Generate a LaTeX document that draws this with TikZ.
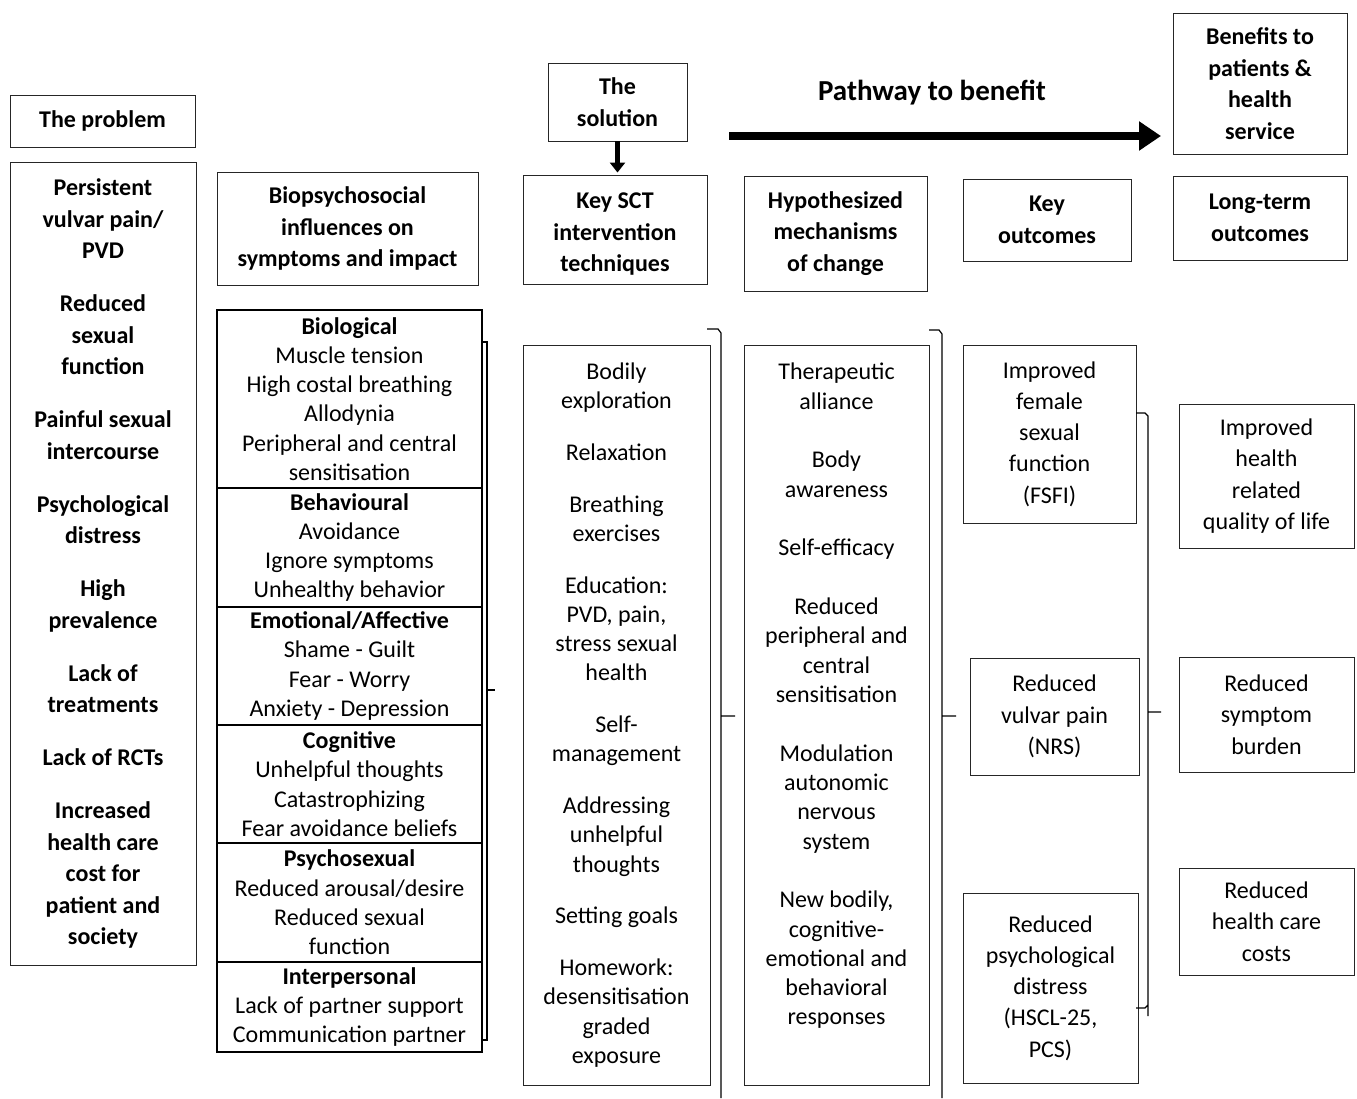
\documentclass[tikz,border=0pt]{standalone}
\usepackage{fontspec}
\setmainfont{Carlito}
\usepackage{tikz}
\usetikzlibrary{arrows.meta}
\tikzset{
	box/.style={draw=black!85,line width=0.9pt,align=center,inner sep=0pt,font=\fontsize{24}{29.3}\selectfont},
	boxb/.style={box,font=\bfseries\fontsize{24}{31.5}\selectfont},
	boxw/.style={box,font=\fontsize{24}{31.3}\selectfont},
	sect/.style={box,draw=black,line width=1.8pt,minimum width=265pt},
	brace/.style={draw=black,line width=1.2pt},
}
\begin{document}
\begin{tikzpicture}[x=1pt,y=-1pt]

		\useasboundingbox (0,0) rectangle (1357,1098);

		\node[boxb,minimum width=185pt,minimum height=52pt] (problem) at (102.5,121) {The problem};
		\node[boxb,minimum width=186pt,minimum height=803pt] (issues) at (103,563.5) {Persistent\\vulvar pain/\\PVD\\[21.5pt]Reduced\\sexual\\function\\[21.5pt]Painful sexual\\intercourse\\[21.5pt]Psychological\\distress\\[21.5pt]High\\prevalence\\[21.5pt]Lack of\\treatments\\[21.5pt]Lack of RCTs\\[21.5pt]Increased\\health care\\cost for\\patient and\\society};

		\node[boxb,minimum width=261pt,minimum height=113pt] (influences) at (347.5,228.5) {Biopsychosocial\\influences on\\symptoms and impact};
		\node[sect,minimum height=178pt] (bio) at (349.5,399) {\textbf{Biological}\\Muscle tension\\High costal breathing\\Allodynia\\Peripheral and central\\sensitisation};
		\node[sect,minimum height=119pt] (beh) at (349.5,547.5) {\textbf{Behavioural}\\Avoidance\\Ignore symptoms\\Unhealthy behavior};
		\node[sect,minimum height=118pt] (emo) at (349.5,666) {\textbf{Emotional/Affective}\\Shame - Guilt\\Fear - Worry\\Anxiety - Depression};
		\node[sect,minimum height=118pt] (cog) at (349.5,784) {\textbf{Cognitive}\\Unhelpful thoughts\\Catastrophizing\\Fear avoidance beliefs};
		\node[sect,minimum height=119pt] (psy) at (349.5,902.5) {\textbf{Psychosexual}\\Reduced arousal/desire\\Reduced sexual\\function};
		\node[sect,minimum height=90pt] (inter) at (349.5,1007) {\textbf{Interpersonal}\\Lack of partner support\\Communication partner};

		\node[boxb,minimum width=139pt,minimum height=78pt] (solution) at (617.5,102) {The\\solution};
		\node[boxb,minimum width=184pt,minimum height=109pt] (sct) at (615,229.5) {};
		\node[boxb,draw=none] (scttext) at ([yshift=-5pt]sct.center) {Key SCT\\intervention\\techniques};
		\node[box,minimum width=187pt,minimum height=740pt] (techniques) at (616.5,715) {Bodily\\exploration\\[22.4pt]Relaxation\\[22.4pt]Breathing\\exercises\\[22.4pt]Education:\\PVD, pain,\\stress sexual\\health\\[22.4pt]Self-\\management\\[22.4pt]Addressing\\unhelpful\\thoughts\\[22.4pt]Setting goals\\[22.4pt]Homework:\\desensitisation\\graded\\exposure};

		\node[font=\bfseries\fontsize{29}{35}\selectfont] (pathway) at (932,93) {Pathway to benefit};
		\coordinate (pwstart) at (729,136);
		\coordinate (pwend) at (1161,136);

		\node[boxb,minimum width=183pt,minimum height=115pt] (mechhead) at (835.5,233.5) {Hypothesized\\mechanisms\\of change};
		\node[box,minimum width=185pt,minimum height=740pt] (mechanisms) at (836.5,715) {};
		\node[box,draw=none] (mechtext) at ([yshift=19pt]mechanisms.center) {Therapeutic\\alliance\\[29.4pt]Body\\awareness\\[29.4pt]Self-efficacy\\[29.4pt]Reduced\\peripheral and\\central\\sensitisation\\[29.4pt]Modulation\\autonomic\\nervous\\system\\[29.4pt]New bodily,\\cognitive-\\emotional and\\behavioral\\responses};

		\node[boxb,minimum width=168pt,minimum height=82pt] (keyout) at (1047,220) {Key\\outcomes};
		\node[boxw,minimum width=173pt,minimum height=178pt] (fsfi) at (1049.5,434) {Improved\\female\\sexual\\function\\(FSFI)};
		\node[boxw,minimum width=169pt,minimum height=117pt] (nrs) at (1054.5,716.5) {Reduced\\vulvar pain\\(NRS)};
		\node[boxw,minimum width=175pt,minimum height=190pt] (hscl) at (1050.5,988) {Reduced\\psychological\\distress\\(HSCL-25,\\PCS)};

		\node[boxb,minimum width=174pt,minimum height=141pt] (benefits) at (1260,83.5) {Benefits to\\patients \&\\health\\service};
		\node[boxb,minimum width=174pt,minimum height=84pt] (longterm) at (1260,218) {Long-term\\outcomes};
		\node[boxw,minimum width=175pt,minimum height=144pt] (qol) at (1266.5,476) {Improved\\health\\related\\quality of life};
		\node[boxw,minimum width=175pt,minimum height=115pt] (burden) at (1266.5,714.5) {Reduced\\symptom\\burden};
		\node[boxw,minimum width=175pt,minimum height=107pt] (costs) at (1266.5,921.5) {Reduced\\health care\\costs};

		\draw[line width=5pt,-{Triangle[length=10pt,width=15pt]}] (solution.south) -- ([yshift=2pt]solution.south |- sct.north);
		\draw[line width=8pt,-{Triangle[length=22pt,width=28pt]}] (pwstart) -- (pwend);

		\path[brace] (482,342) -- (487,342) -- (487,1040) -- (482,1040) (487,690) -- (495,690);
		\path[brace] (707,329) -- (718,329) -- (721,333) -- (721,1098) (721,716) -- (735,716);
		\path[brace] (929,330) -- (939,330) -- (942,334) -- (942,1098) (942,716) -- (956,716);
		\path[brace] (1136,413) -- (1145,413) -- (1148,416) -- (1148,1016) (1148,1005) -- (1145,1008) -- (1136,1008) (1148,712) -- (1161,712);

		\end{tikzpicture}
\end{document}
